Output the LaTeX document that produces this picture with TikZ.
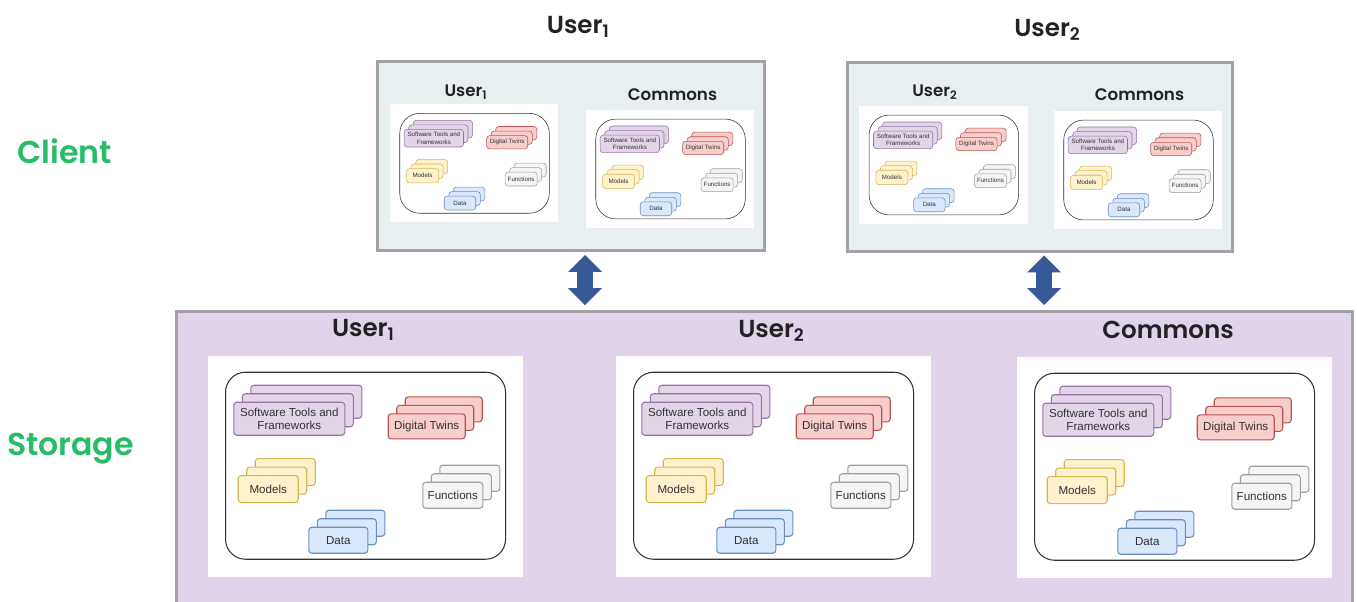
\documentclass[tikz,border=0pt]{standalone}
\usepackage{fontspec}
\setmainfont{Liberation Sans}
\newfontfamily\titlefont{Poppins SemiBold}
\usetikzlibrary{arrows.meta}

\newlength\px
\setlength\px{0.02cm}

\definecolor{swfill}{HTML}{E1D5E7}
\definecolor{swline}{HTML}{9673A6}
\definecolor{dtfill}{HTML}{F8CECC}
\definecolor{dtline}{HTML}{B85450}
\definecolor{modfill}{HTML}{FFF2CC}
\definecolor{modline}{HTML}{D6B656}
\definecolor{funfill}{HTML}{F5F5F5}
\definecolor{funline}{HTML}{9E9E9E}
\definecolor{datafill}{HTML}{DAE8FC}
\definecolor{dataline}{HTML}{6C8EBF}
\definecolor{clientfill}{HTML}{E8EFF1}
\definecolor{storefill}{HTML}{E1D4EA}
\definecolor{boxline}{HTML}{A2A2A4}
\definecolor{linkblue}{HTML}{375995}
\definecolor{tiergreen}{HTML}{27BC68}
\definecolor{titlecol}{HTML}{222222}

\tikzset{
  stackbox/.style={draw, rounded corners=3\px, anchor=north west, inner sep=0pt,
    align=center, text=black!80, font=\fontsize{6.6}{7.8}\selectfont},
  swbox/.style={stackbox, fill=swfill, draw=swline},
  dtbox/.style={stackbox, fill=dtfill, draw=dtline},
  modbox/.style={stackbox, fill=modfill, draw=modline},
  funbox/.style={stackbox, fill=funfill, draw=funline},
  databox/.style={stackbox, fill=datafill, draw=dataline},
  panel/.style={fill=white, anchor=north west, inner sep=0pt,
    minimum width=315\px, minimum height=221\px},
  repo/.style={draw=black!80, rounded corners=20\px, anchor=north west,
    minimum width=280\px, minimum height=187\px},
  tierbox/.style={draw=boxline, line width=3\px, anchor=north west, inner sep=0pt},
  title/.style={anchor=base, text=titlecol, font=\titlefont\fontsize{14}{16}\selectfont},
  minititle/.style={anchor=base, text=titlecol, font=\titlefont\fontsize{9.5}{11}\selectfont},
  tier/.style={anchor=base, text=tiergreen, font=\titlefont\fontsize{18}{20}\selectfont},
  link/.style={draw=linkblue, line width=0.31cm,
    {Triangle[width=0.68cm,length=0.34cm,line width=0pt]}-{Triangle[width=0.68cm,length=0.34cm,line width=0pt]},
    shorten <=0.06cm, shorten >=0.1cm}
}

% one stack of three cards: name, style, x, y, width, height, text
\newcommand\stack[7]{%
  \node[#2, minimum width=#5\px, minimum height=#6\px] (#1-back) at (#3+17, -#4+17) {};
  \node[#2, minimum width=#5\px, minimum height=#6\px] (#1-mid) at (#3+8.5, -#4+8.5) {};
  \node[#2, minimum width=#5\px, minimum height=#6\px] (#1) at (#3, -#4) {#7};
}

% one repository panel: prefix, top left corner, scale
\newcommand\repobox[3]{%
  \begin{scope}[shift={#2}, scale=#3, transform shape, line width=#3*0.6pt]
    \node[panel] (#1-panel) at (0,0) {};
    \node[repo] (#1-repo) at (18,-16.7) {};
    \stack{#1-sw}{swbox}{26.3}{46.7}{111}{33}{Software Tools and\\Frameworks}
    \stack{#1-dt}{dtbox}{180.7}{58.3}{77}{25}{Digital Twins}
    \stack{#1-mod}{modbox}{30.7}{120}{60}{27}{Models}
    \stack{#1-fun}{funbox}{215.3}{126.7}{60}{26}{Functions}
    \stack{#1-data}{databox}{101.3}{171.7}{59}{26}{Data}
  \end{scope}}

\begin{document}
\begin{tikzpicture}[x=0.02cm, y=0.02cm]
  \useasboundingbox (0,0) rectangle (1357,-602);

  % tiers
  \node[tier] (client) at (64.5,-163.3) {Client};
  \node[tier] (storage) at (70.5,-455) {Storage};

  % storage
  \node[tierbox, fill=storefill, minimum width=1176\px, minimum height=330\px]
    (store) at (175,-310) {};
  \repobox{s1}{(207,-355)}{1}
  \repobox{s2}{(615,-355)}{1}
  \repobox{s3}{(1016,-356)}{1}
  \node[title] (t-s1) at (363.4,-336.7) {User\textsubscript{1}};
  \node[title] (t-s2) at (771.5,-337) {User\textsubscript{2}};
  \node[title] (t-s3) at (1168,-338) {Commons};

  % clients
  \node[tierbox, fill=clientfill, minimum width=387\px, minimum height=189\px]
    (c1) at (376,-60) {};
  \node[tierbox, fill=clientfill, minimum width=385\px, minimum height=189\px]
    (c2) at (846,-60.5) {};
  \node[title] (t-c1) at (578.3,-33.3) {User\textsubscript{1}};
  \node[title] (t-c2) at (1047.5,-36) {User\textsubscript{2}};
  \repobox{m1}{(390,-104.3)}{0.534}
  \repobox{m2}{(586,-110)}{0.534}
  \repobox{m3}{(859.3,-106)}{0.534}
  \repobox{m4}{(1054,-111)}{0.534}
  \node[minititle] (t-m1) at (466,-96) {User\textsubscript{1}};
  \node[minititle] (t-m2) at (672.5,-100.7) {Commons};
  \node[minititle] (t-m3) at (935,-96.7) {User\textsubscript{2}};
  \node[minititle] (t-m4) at (1139.5,-100.7) {Commons};

  % links
  \coordinate (link1) at (585,0);
  \coordinate (link2) at (1044,0);
  \draw[link] (c1.south -| link1) -- (store.north -| link1);
  \draw[link] (c2.south -| link2) -- (store.north -| link2);
\end{tikzpicture}
\end{document}
